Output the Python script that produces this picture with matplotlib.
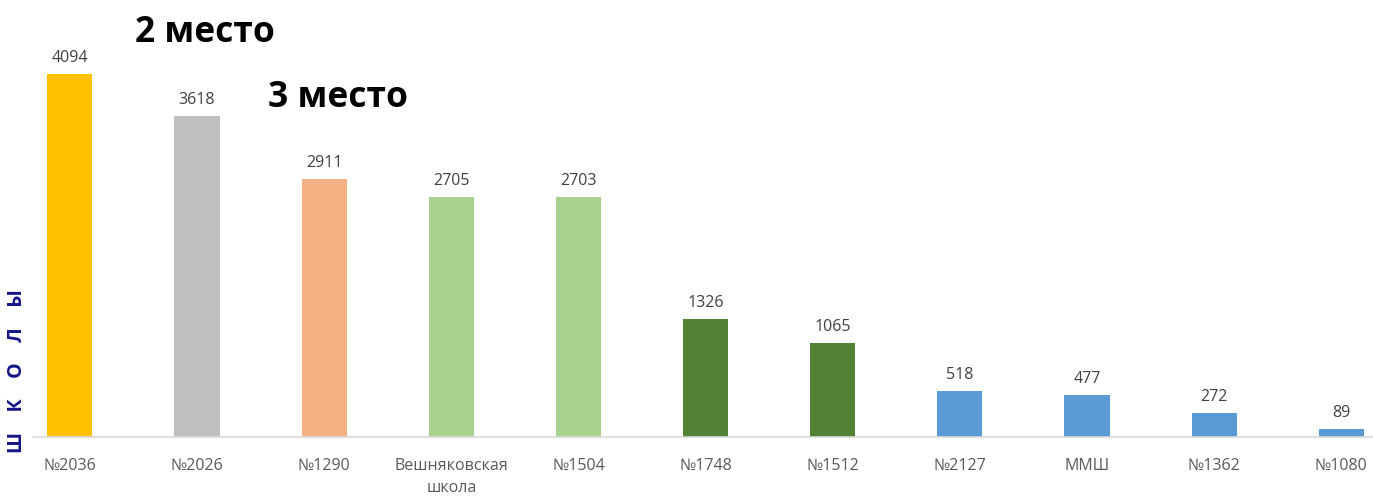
import matplotlib.pyplot as plt
import numpy as np

plt.rcParams['font.family'] = ['Open Sans', 'DejaVu Sans']

schools = ['№2036', '№2026', '№1290', 'Вешняковская\nшкола', '№1504', '№1748',
           '№1512', '№2127', 'ММШ', '№1362', '№1080']
scores = [4094, 3618, 2911, 2705, 2703, 1326, 1065, 518, 477, 272, 89]
colors = ['#FFC000', '#BFBFBF', '#F4B183', '#A9D18E', '#A9D18E', '#548235',
          '#548235', '#5B9BD5', '#5B9BD5', '#5B9BD5', '#5B9BD5']

W, H = 1373, 496
fig = plt.figure(figsize=(W / 100, H / 100), dpi=100)
ax = fig.add_axes([33 / W, (H - 437) / H, (W - 33) / W, 437 / H])

x = np.arange(len(schools))
ax.bar(x, scores, width=0.355, color=colors)
for xi, v in zip(x, scores):
    ax.text(xi, v + 90, str(v), ha='center', va='bottom', fontsize=11.5, color='#404040')

ax.set_xlim(-0.29, 10.25)
ax.set_ylim(0, 4927)
ax.set_xticks(x)
ax.set_xticklabels(schools, fontsize=11.5, color='#595959', linespacing=1.55)
ax.tick_params(axis='x', length=0, pad=15)
ax.set_yticks([])
for s in ['top', 'right', 'left']:
    ax.spines[s].set_visible(False)
ax.spines['bottom'].set_color('#D9D9D9')
ax.spines['bottom'].set_linewidth(1.2)

fig.text(135 / W, 1 - 33 / H, '2 место', fontsize=25.5, fontweight='bold', va='center', ha='left')
fig.text(268 / W, 1 - 98 / H, '3 место', fontsize=25.5, fontweight='bold', va='center', ha='left')
fig.text(17 / W, 1 - 371 / H, 'Ш    К    О    Л    Ы', rotation=90, fontsize=14, fontweight='bold',
         color='#14148A', va='center', ha='center')

fig.savefig('out.png', dpi=100)
